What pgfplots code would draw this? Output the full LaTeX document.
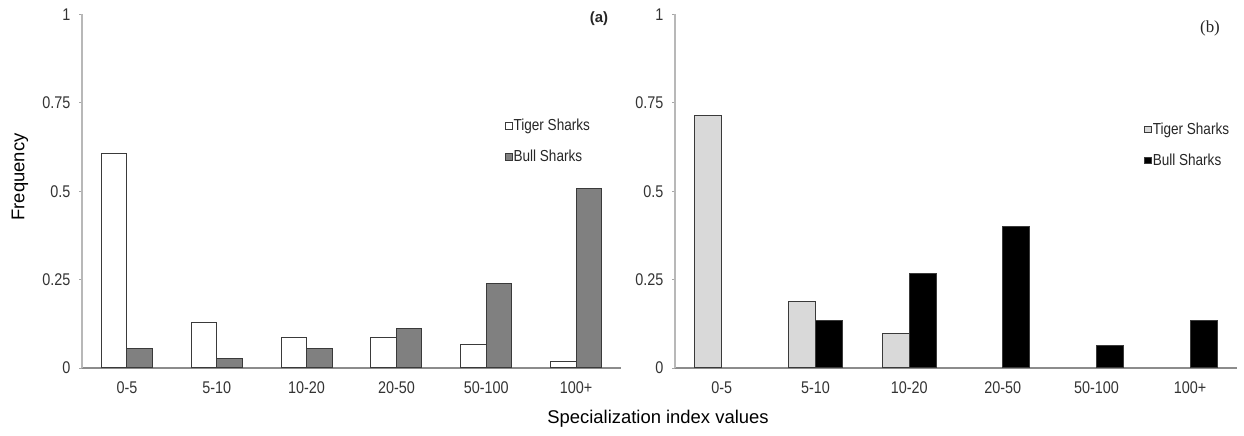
\documentclass[border=0pt]{standalone}
\usepackage{fontspec}
\setmainfont{Liberation Sans}
\newfontfamily\narrowfont[FakeStretch=0.85]{Liberation Sans}
\newfontfamily\seriffont{Liberation Serif}
\usepackage{pgfplots}
\pgfplotsset{compat=1.18}
\definecolor{bullA}{HTML}{808080}
\definecolor{tigerB}{HTML}{D9D9D9}
\definecolor{edge}{HTML}{3A3A3A}
\pgfplotsset{
  sharkaxis/.style={
    scale only axis,
    height=353.5bp,
    xmin=-0.5, xmax=5.5,
    ymin=0, ymax=1,
    axis x line=bottom, axis y line=left,
    x axis line style={-, draw=black!45, line width=1.2bp},
    y axis line style={-, draw=black!28, line width=1.2bp},
    xtick={0,1,2,3,4,5},
    xticklabels={0-5,5-10,10-20,20-50,50-100,100+},
    ytick={0,0.25,0.5,0.75,1},
    yticklabels={0,0.25,0.5,0.75,1},
    /pgf/number format/assume math mode=true,
    x tick style={draw=none},
    tick align=outside,
    major tick length=3bp,
    y tick style={draw=black!35, line width=0.8bp},
    ticklabel style={font=\narrowfont\fontsize{17}{19}\selectfont, text=black!80},
    xticklabel style={yshift=-7bp},
    yticklabel style={xshift=-5bp},
    ybar,
    legend image code/.code={\draw[#1, line width=0.8bp] (0bp,-3.2bp) rectangle (6.5bp,3.2bp);},
    legend cell align=left,
    legend style={draw=none, fill=none, inner sep=0pt, row sep=16bp,
      font=\narrowfont\fontsize{16}{18}\selectfont,
      nodes={inner sep=1bp, text=black!85}},
  }
}
\begin{document}
\begin{tikzpicture}[x=1bp,y=1bp]
\path[use as bounding box] (0,0) rectangle (1244,436);
% ---- panel (a)
\begin{axis}[sharkaxis, width=539bp, at={(82bp,68bp)}, anchor=south west,
  bar width=25.5bp,
  legend style={at={(rel axis cs:0.785,0.707)}, anchor=north west}]
\addplot[fill=white, draw=edge, line width=1bp, bar shift=-12.75bp]
  coordinates {(0,0.608) (1,0.130) (2,0.086) (3,0.086) (4,0.066) (5,0.019)};
\addplot[fill=bullA, draw=edge, line width=1bp, bar shift=12.75bp]
  coordinates {(0,0.056) (1,0.028) (2,0.056) (3,0.111) (4,0.239) (5,0.508)};
\legend{Tiger Sharks, Bull Sharks}
\end{axis}
% ---- panel (b)
\begin{axis}[sharkaxis, width=562bp, at={(675bp,68bp)}, anchor=south west,
  bar width=27bp,
  legend style={at={(rel axis cs:0.835,0.697)}, anchor=north west}]
\addplot[fill=tigerB, draw=edge, line width=1bp, bar shift=-13.5bp]
  coordinates {(0,0.713) (1,0.188) (2,0.097)};
\addplot[fill=black, draw=edge, line width=1bp, bar shift=13.5bp]
  coordinates {(1,0.134) (2,0.266) (3,0.399) (4,0.063) (5,0.134)};
\legend{Tiger Sharks, Bull Sharks}
\end{axis}
% ---- labels
\node[rotate=90, font=\fontsize{18.5}{20}\selectfont] at (20,259) {Frequency};
\node[font=\fontsize{18.5}{20}\selectfont] at (658,17) {Specialization index values};
\node[font=\bfseries\fontsize{15}{17}\selectfont, text=black!85] at (599,417) {(a)};
\node[font=\seriffont\fontsize{17}{19}\selectfont, text=black!85] at (1210,408) {(b)};
\end{tikzpicture}
\end{document}
